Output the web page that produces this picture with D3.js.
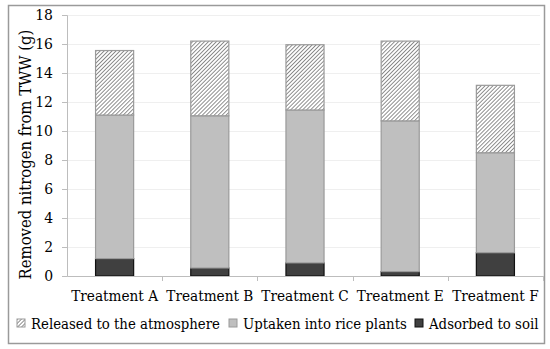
<!DOCTYPE html>
<html>
<head>
<meta charset="utf-8">
<script src="https://cdnjs.cloudflare.com/ajax/libs/d3/7.8.5/d3.min.js"></script>
<style>
  body { margin: 0; background: #fff; }
  svg text { fill: #000; font-stretch: condensed; }
</style>
</head>
<body>
<div id="chart"></div>
<script>
// chart data
var categories = ["Treatment A", "Treatment B", "Treatment C", "Treatment E", "Treatment F"];
var soil = [1.2, 0.55, 0.9, 0.3, 1.6];
var uptake = [9.9, 10.5, 10.55, 10.4, 6.9];
var released = [4.45, 5.15, 4.5, 5.5, 4.65];
var yticks = [0, 2, 4, 6, 8, 10, 12, 14, 16, 18];
var seriesNames = ["Released to the atmosphere", "Uptaken into rice plants", "Adsorbed to soil"];

// graph specs
var width = 550;
var height = 349;
var plot = {left: 67, right: 543, top: 15, bottom: 276};
var serif = "'DejaVu Serif Condensed', 'DejaVu Serif', serif";
var fontSize = 15.2;

var svg = d3.select("#chart").append("svg").attr("width", width).attr("height", height);

// hatch pattern
var defs = svg.append("defs");
var pat = defs.append("pattern")
    .attr("id", "hatch")
    .attr("patternUnits", "userSpaceOnUse")
    .attr("width", 2.8)
    .attr("height", 2.8)
    .attr("patternTransform", "rotate(45)");
pat.append("rect").attr("width", 2.8).attr("height", 2.8).attr("fill", "#fff");
pat.append("line").attr("x1", 0).attr("y1", 0).attr("x2", 0).attr("y2", 2.8)
    .attr("stroke", "#6a6a6a").attr("stroke-width", 1.5);

// outer border
svg.append("rect")
    .attr("x", 8.5).attr("y", 5.5)
    .attr("width", 536).attr("height", 338)
    .attr("fill", "none").attr("stroke", "#9a9a9a").attr("stroke-width", 1.5);

// scales
var xscale = d3.scaleBand()
    .domain(categories)
    .range([plot.left, plot.right])
    .paddingInner(0.6)
    .paddingOuter(0.3);

var yscale = d3.scaleLinear()
    .domain([0, 18])
    .range([plot.bottom, plot.top]);

// gridlines
svg.selectAll(".grid").data(yticks.slice(1)).enter().append("line")
    .attr("x1", plot.left).attr("x2", plot.right - 3)
    .attr("y1", function(d) { return Math.round(yscale(d)) + 0.5; })
    .attr("y2", function(d) { return Math.round(yscale(d)) + 0.5; })
    .attr("stroke", "#efefef");

// stacked bars
var table = categories.map(function(c, i) {
    return {cat: c, soil: soil[i], uptake: uptake[i], released: released[i]};
});
var stack = d3.stack().keys(["soil", "uptake", "released"])(table);
var fills = {soil: "#404040", uptake: "#bfbfbf", released: "url(#hatch)"};
var strokes = {soil: "#111", uptake: "#9a9a9a", released: "#9a9a9a"};

stack.forEach(function(layer) {
    svg.selectAll(".bar-" + layer.key).data(layer).enter().append("rect")
        .attr("x", function(d) { return xscale(d.data.cat); })
        .attr("y", function(d) { return yscale(d[1]); })
        .attr("width", xscale.bandwidth())
        .attr("height", function(d) { return yscale(d[0]) - yscale(d[1]); })
        .attr("fill", fills[layer.key])
        .attr("stroke", strokes[layer.key])
        .attr("stroke-width", 1.2);
});

// y axis
var yaxis = d3.axisLeft(yscale).tickValues(yticks).tickSize(5).tickPadding(9);
var gy = svg.append("g")
    .attr("transform", "translate(" + plot.left + ",0)")
    .call(yaxis)
    .attr("font-family", serif)
    .attr("font-size", 15.5);
gy.select(".domain").attr("stroke", "#bdbdbd");
gy.selectAll(".tick line").attr("stroke", "#bdbdbd");

// x axis
var xaxis = d3.axisBottom(xscale).tickSize(0).tickPadding(14);
var gx = svg.append("g")
    .attr("transform", "translate(0," + plot.bottom + ")")
    .call(xaxis)
    .attr("font-family", serif)
    .attr("font-size", fontSize);
gx.select(".domain").attr("stroke", "#bdbdbd");

// category boundary ticks
var bounds = categories.map(function(c, i) { return plot.left + i * (plot.right - plot.left) / categories.length; });
svg.selectAll(".xtick").data(bounds.slice(1).concat([plot.right])).enter().append("line")
    .attr("x1", function(d) { return Math.round(d) + 0.5; })
    .attr("x2", function(d) { return Math.round(d) + 0.5; })
    .attr("y1", plot.bottom).attr("y2", plot.bottom + 5)
    .attr("stroke", "#bdbdbd");

// y axis title
svg.append("text")
    .text("Removed nitrogen from TWW (g)")
    .attr("font-family", serif)
    .attr("font-size", 16.5)
    .attr("text-anchor", "middle")
    .attr("transform", "translate(31," + ((plot.top + plot.bottom) / 2 + 9) + ") rotate(-90)");

// legend
var legendX = [17, 229, 415];
var legendFill = ["url(#hatch)", "#bfbfbf", "#404040"];
var legendStroke = ["#9a9a9a", "#9a9a9a", "#111"];
var leg = svg.selectAll(".legend").data(seriesNames).enter().append("g")
    .attr("transform", function(d, i) { return "translate(" + legendX[i] + ",319)"; });
leg.append("rect")
    .attr("width", 8).attr("height", 8)
    .attr("fill", function(d, i) { return legendFill[i]; })
    .attr("stroke", function(d, i) { return legendStroke[i]; })
    .attr("stroke-width", 1);
leg.append("text")
    .text(function(d) { return d; })
    .attr("x", 14).attr("y", 9.5)
    .attr("font-family", serif)
    .attr("font-size", 14.8);
</script>
</body>
</html>
